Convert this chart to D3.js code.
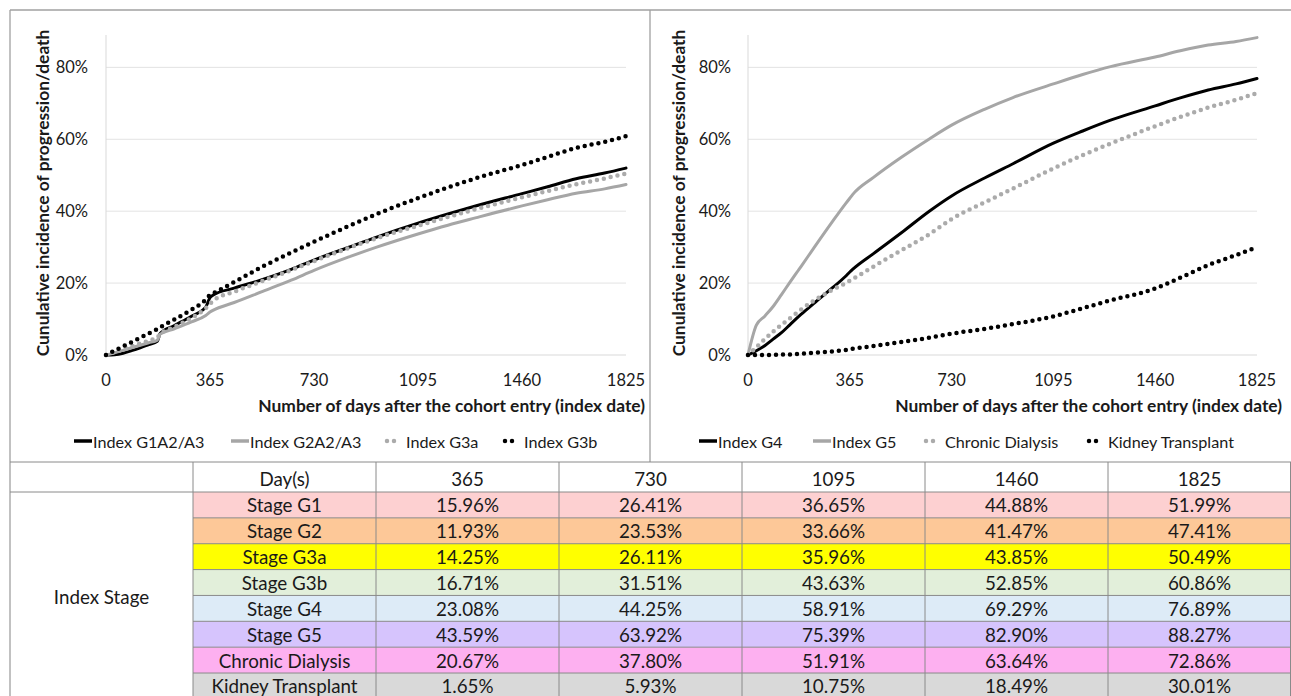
<!DOCTYPE html>
<html><head><meta charset="utf-8">
<script src="https://cdn.jsdelivr.net/npm/d3@7"></script>
<style>
body{margin:0;background:#fff;}
text{font-family:Lato,"Open Sans",sans-serif;fill:#1a1a1a;}
</style></head>
<body><svg id="c" width="1291" height="696"></svg>
<script>
// ---------- DATA ----------
const days = [0,30,60,90,120,150,180,190,240,300,350,365,375,450,550,650,730,850,950,1095,1200,1300,1460,1550,1650,1750,1825];
const xTicks = [0,365,730,1095,1460,1825];
const yTicks = [0,0.2,0.4,0.6,0.8];

const g1a2a3 = [0,0.1,0.5,1.2,2.0,2.9,3.8,6.0,8.2,10.8,13.3,15.96,16.6,18.6,21.0,23.8,26.41,29.9,32.8,36.65,39.2,41.5,44.88,46.8,49.0,50.6,51.99];
const g2a2a3 = [0,0.6,1.3,2.0,2.7,3.4,4.1,5.8,7.3,9.2,11.0,11.93,12.4,14.6,17.7,20.8,23.53,27.2,30.0,33.66,36.1,38.2,41.47,43.2,45.0,46.2,47.41];
const g3a    = [0,0.8,1.6,2.4,3.2,4.0,4.9,5.8,7.8,10.3,13.0,14.25,15.0,17.6,20.6,23.6,26.11,29.7,32.5,35.96,38.4,40.6,43.85,45.6,47.5,49.1,50.49];
const g3b    = [0,1.2,2.4,3.6,4.8,6.0,7.2,7.7,9.9,12.6,15.4,16.71,17.1,20.3,24.6,28.5,31.51,35.8,39.2,43.63,46.6,49.2,52.85,55.1,57.6,59.3,60.86];

const g4  = [0,1.2,2.6,4.4,6.2,8.4,10.6,11.3,14.6,18.5,21.9,23.08,23.8,28.2,34.0,40.0,44.25,49.3,53.2,58.91,62.3,65.3,69.29,71.5,73.7,75.4,76.89];
const g5  = [0,8.3,10.8,13.5,16.8,20.2,23.5,24.6,30.2,36.8,42.1,43.59,44.6,49.4,55.0,60.1,63.92,68.4,71.6,75.39,78.0,80.2,82.90,84.6,86.2,87.2,88.27];
const dialysis = [0,2.2,4.4,6.5,8.4,10.2,12.0,12.6,15.3,18.0,20.0,20.67,21.1,24.6,29.1,33.6,37.8,42.5,46.3,51.91,55.6,58.8,63.64,66.2,68.8,71.0,72.86];
const transplant = [0,0,0,0.05,0.1,0.15,0.3,0.35,0.6,1.0,1.4,1.65,1.75,2.5,3.6,4.8,5.93,7.3,8.6,10.75,13.0,15.2,18.49,21.5,25.0,27.8,30.01];

const leftNames  = ["Index G1A2/A3","Index G2A2/A3","Index G3a","Index G3b"];
const rightNames = ["Index G4","Index G5","Chronic Dialysis","Kidney Transplant"];

const tableDays = ["365","730","1095","1460","1825"];
const stageNames = ["Stage G1","Stage G2","Stage G3a","Stage G3b","Stage G4","Stage G5","Chronic Dialysis","Kidney Transplant"];
const stageColors = ["#fdd0d1","#fdc898","#ffff00","#e2efda","#ddebf7","#d6c4fd","#fdb0f0","#d9d9d9"];
const tableValues = [
 ["15.96%","26.41%","36.65%","44.88%","51.99%"],
 ["11.93%","23.53%","33.66%","41.47%","47.41%"],
 ["14.25%","26.11%","35.96%","43.85%","50.49%"],
 ["16.71%","31.51%","43.63%","52.85%","60.86%"],
 ["23.08%","44.25%","58.91%","69.29%","76.89%"],
 ["43.59%","63.92%","75.39%","82.90%","88.27%"],
 ["20.67%","37.80%","51.91%","63.64%","72.86%"],
 ["1.65%","5.93%","10.75%","18.49%","30.01%"]
];

// ---------- STYLES ----------
const styles = [
  {stroke:"#000", dash:null, w:3},
  {stroke:"#a6a6a6", dash:null, w:3},
  {stroke:"#ababab", dash:"0 7", w:4.5},
  {stroke:"#000", dash:"0 7", w:4.5}
];

const svg = d3.select("#c");

const frame = svg.append("g").attr("stroke","#a0a0a0").attr("stroke-width",1.3);
frame.append("line").attr("x1",10).attr("x2",1291).attr("y1",10).attr("y2",10);
frame.append("line").attr("x1",10).attr("x2",10).attr("y1",10).attr("y2",696);
frame.append("line").attr("x1",650).attr("x2",650).attr("y1",10).attr("y2",462);

function panel(cfg){
  const x = d3.scaleLinear().domain([0,1825]).range([cfg.x0,cfg.x1]);
  const y = d3.scaleLinear().domain([0,0.89]).range([355,35]);
  const g = svg.append("g");
  g.selectAll(".grid").data(yTicks.slice(1)).join("line")
    .attr("x1",cfg.x0).attr("x2",cfg.x1).attr("y1",d=>y(d)).attr("y2",d=>y(d))
    .attr("stroke","#e3e3e3").attr("stroke-width",1);
  g.append("line").attr("x1",cfg.x0).attr("x2",cfg.x0).attr("y1",y(0.89)).attr("y2",y(0))
    .attr("stroke","#d9d9d9");
  g.append("line").attr("x1",cfg.x0).attr("x2",cfg.x1).attr("y1",y(0)).attr("y2",y(0))
    .attr("stroke","#d9d9d9");
  g.selectAll(".yt").data(yTicks).join("text")
    .attr("x",cfg.ylab).attr("y",d=>y(d)).attr("text-anchor","end")
    .attr("dominant-baseline","central").attr("font-size",16.5)
    .text(d=>d3.format(".0%")(d));
  g.selectAll(".xt").data(xTicks).join("text")
    .attr("x",d=>x(d)).attr("y",380).attr("text-anchor","middle")
    .attr("dominant-baseline","central").attr("font-size",16.5)
    .text(d=>d);
  g.append("text").attr("x",cfg.xtitle).attr("y",405).attr("text-anchor","end")
    .attr("dominant-baseline","central").attr("font-size",17.4).attr("font-weight","bold")
    .text("Number of days after the cohort entry (index date)");
  g.append("text").attr("transform",`translate(${cfg.ytitle},193) rotate(-90)`)
    .attr("text-anchor","middle").attr("dominant-baseline","central")
    .attr("font-size",17.4).attr("font-weight","bold")
    .text("Cunulative incidence of progression/death");
  const line = d3.line().x((d,i)=>x(days[i])).y(d=>y(d/100)).curve(d3.curveMonotoneX);
  cfg.series.forEach((s,k)=>{
    const st = styles[k];
    g.append("path").datum(s).attr("d",line).attr("fill","none")
      .attr("stroke",st.stroke).attr("stroke-width",st.w)
      .attr("stroke-linecap","round").attr("stroke-linejoin","round")
      .attr("stroke-dasharray",st.dash);
  });
  const lg = g.append("g");
  cfg.names.forEach((n,k)=>{
    const st = styles[k];
    const lx = cfg.legX[k];
    lg.append("line").attr("x1",lx).attr("x2",lx+ (st.dash?14:18)).attr("y1",441).attr("y2",441)
      .attr("stroke",st.stroke).attr("stroke-width",st.dash?4.5:3.5)
      .attr("stroke-linecap",st.dash?"round":"butt").attr("stroke-dasharray",st.dash);
    lg.append("text").attr("x",lx+19).attr("y",441)
      .attr("dominant-baseline","central").attr("font-size",16.2).text(n);
  });
}

panel({x0:106,x1:626,ylab:88,xtitle:645,ytitle:42,series:[g1a2a3,g2a2a3,g3a,g3b],names:leftNames,legX:[74,231,387,505]});
panel({x0:748,x1:1257,ylab:731,xtitle:1282,ytitle:678,series:[g4,g5,dialysis,transplant],names:rightNames,legX:[699,813,926,1089]});

// ---------- TABLE ----------
const colX = [10,193,376,559,742,925,1108,1291];
const headTop = 462, rowTop = 492, rowH = 25.86;
const tg = svg.append("g");
stageNames.forEach((n,r)=>{
  tg.append("rect").attr("x",colX[1]).attr("y",rowTop+r*rowH).attr("width",colX[7]-colX[1]).attr("height",rowH)
    .attr("fill",stageColors[r]);
});
tg.append("line").attr("x1",colX[0]).attr("x2",colX[7]).attr("y1",headTop).attr("y2",headTop).attr("stroke","#8a8a8a");
tg.append("line").attr("x1",colX[0]).attr("x2",colX[7]).attr("y1",rowTop).attr("y2",rowTop).attr("stroke","#8a8a8a");
for(let r=1;r<=stageNames.length;r++){
  tg.append("line").attr("x1",colX[1]).attr("x2",colX[7]).attr("y1",rowTop+r*rowH).attr("y2",rowTop+r*rowH).attr("stroke","#8a8a8a");
}
colX.slice(1,7).forEach(cx=>{
  tg.append("line").attr("x1",cx).attr("x2",cx).attr("y1",headTop).attr("y2",696).attr("stroke","#8a8a8a");
});
tg.append("line").attr("x1",1290.5).attr("x2",1290.5).attr("y1",headTop).attr("y2",696).attr("stroke","#8a8a8a");
const fs = 18.8;
const mid = i => (colX[i]+colX[i+1])/2;
tg.append("text").attr("x",mid(1)).attr("y",headTop+16).attr("text-anchor","middle").attr("dominant-baseline","central").attr("font-size",fs).text("Day(s)");
tableDays.forEach((d,i)=>{
  tg.append("text").attr("x",mid(i+2)).attr("y",headTop+16).attr("text-anchor","middle").attr("dominant-baseline","central").attr("font-size",fs).text(d);
});
tg.append("text").attr("x",mid(0)).attr("y",596).attr("text-anchor","middle").attr("dominant-baseline","central").attr("font-size",fs).text("Index Stage");
stageNames.forEach((n,r)=>{
  const cy = rowTop + r*rowH + rowH/2;
  tg.append("text").attr("x",mid(1)).attr("y",cy).attr("text-anchor","middle").attr("dominant-baseline","central").attr("font-size",fs).text(n);
  tableValues[r].forEach((v,i)=>{
    tg.append("text").attr("x",mid(i+2)).attr("y",cy).attr("text-anchor","middle").attr("dominant-baseline","central").attr("font-size",fs).text(v);
  });
});
</script></body></html>
